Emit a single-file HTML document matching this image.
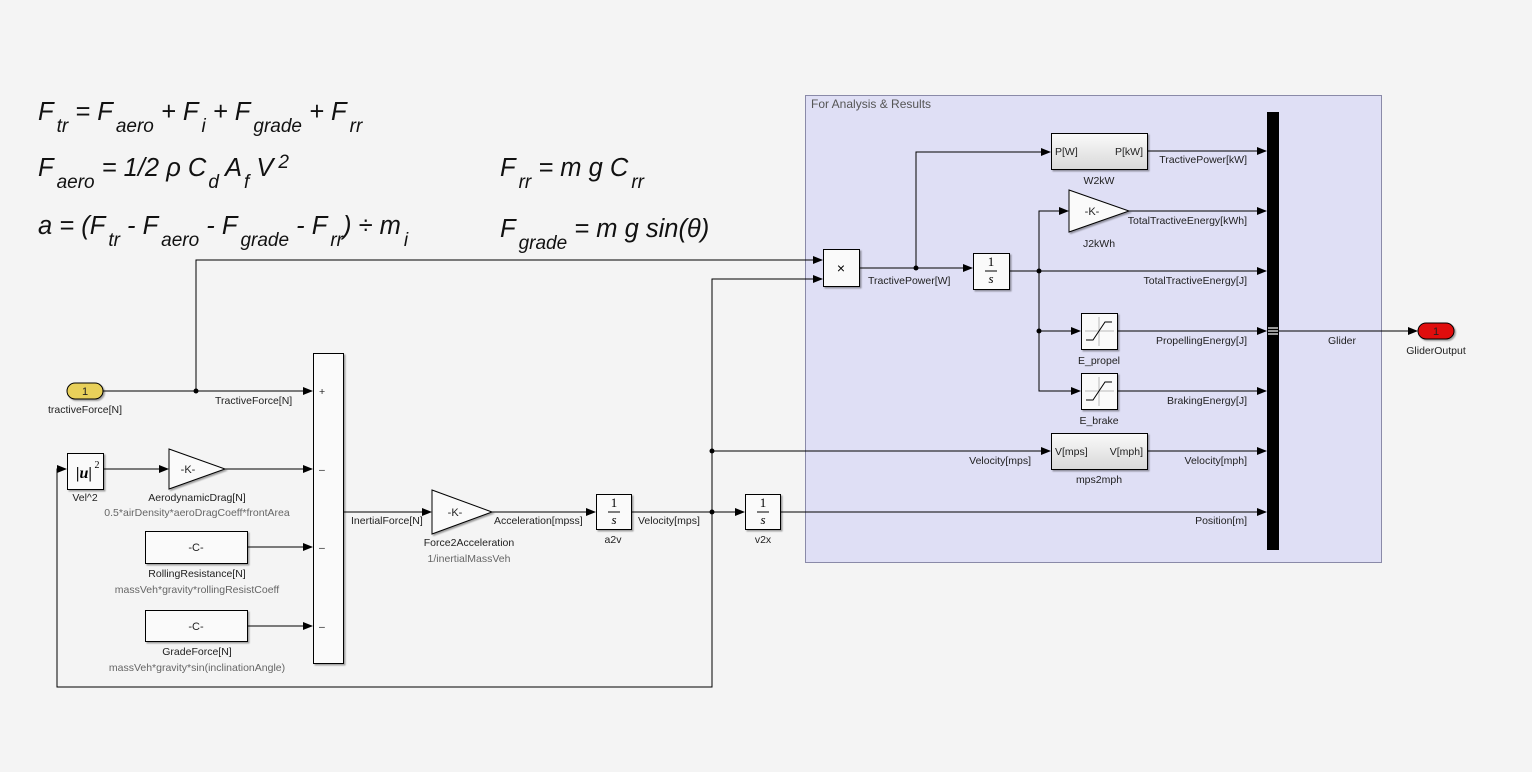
<!DOCTYPE html>
<html><head><meta charset="utf-8"><style>
html,body{margin:0;padding:0;background:#f4f4f4;}
svg{display:block;font-family:"Liberation Sans",Arial,sans-serif;}
.l{font-size:10.5px;fill:#222}
.p{font-size:10.5px;fill:#666}
.eq{font-size:25.5px;font-style:italic;fill:#111}
.eq tspan.s{font-size:19px}
</style></head><body>
<svg width="1532" height="772" viewBox="0 0 1532 772" xmlns="http://www.w3.org/2000/svg">
<defs>
<marker id="a" markerWidth="10" markerHeight="8" refX="9" refY="4" orient="auto" markerUnits="userSpaceOnUse"><path d="M0,0 L10,4 L0,8 z" fill="#000"/></marker>
<linearGradient id="g" x1="0" y1="0" x2="0" y2="1"><stop offset="0" stop-color="#fafafa"/><stop offset="1" stop-color="#d8d8d8"/></linearGradient>
<filter id="sh"><feDropShadow dx="1.5" dy="1.5" stdDeviation="0.8" flood-color="#000" flood-opacity="0.35"/></filter>
</defs>
<rect width="1532" height="772" fill="#f4f4f4"/>

<text class="eq" x="38" y="120">F<tspan class="s" dx="3" dy="12">tr</tspan><tspan dy="-12"> = F</tspan><tspan class="s" dx="3" dy="12">aero</tspan><tspan dy="-12"> + F</tspan><tspan class="s" dx="3" dy="12">i</tspan><tspan dy="-12"> + F</tspan><tspan class="s" dx="3" dy="12">grade</tspan><tspan dy="-12"> + F</tspan><tspan class="s" dx="3" dy="12">rr</tspan></text>
<text class="eq" x="38" y="176">F<tspan class="s" dx="3" dy="12">aero</tspan><tspan dy="-12"> = 1/2 ρ C</tspan><tspan class="s" dx="2" dy="12">d</tspan><tspan dy="-12"> A</tspan><tspan class="s" dx="2" dy="12">f</tspan><tspan dy="-12"> V</tspan><tspan class="s" dx="5" dy="-8">2</tspan></text>
<text class="eq" x="38" y="234">a = (F<tspan class="s" dx="3" dy="12">tr</tspan><tspan dy="-12"> - F</tspan><tspan class="s" dx="3" dy="12">aero</tspan><tspan dy="-12"> - F</tspan><tspan class="s" dx="3" dy="12">grade</tspan><tspan dy="-12"> - F</tspan><tspan class="s" dx="3" dy="12">rr</tspan><tspan dy="-12">) ÷ m</tspan><tspan class="s" dx="3" dy="12">i</tspan></text>
<text class="eq" x="500" y="176">F<tspan class="s" dx="3" dy="12">rr</tspan><tspan dy="-12"> = m g C</tspan><tspan class="s" dx="3" dy="12">rr</tspan></text>
<text class="eq" x="500" y="237">F<tspan class="s" dx="3" dy="12">grade</tspan><tspan dy="-12"> = m g sin(θ)</tspan></text>

<rect x="805.5" y="95.5" width="576" height="467" fill="#dfdff5" stroke="#8a8aa8"/>
<text x="811" y="108" style="font-size:12px;fill:#555">For Analysis &amp; Results</text>

<g stroke="#000" stroke-width="1" fill="none">
<path d="M103,391 H312" marker-end="url(#a)"/>
<path d="M196,391 V260 H822" marker-end="url(#a)"/>
<path d="M103,469 H168" marker-end="url(#a)"/>
<path d="M225,469 H312" marker-end="url(#a)"/>
<path d="M247,547 H312" marker-end="url(#a)"/>
<path d="M247,626 H312" marker-end="url(#a)"/>
<path d="M712,512 V687 H57 V469 H66" marker-end="url(#a)"/>
<path d="M343,512 H431" marker-end="url(#a)"/>
<path d="M492,512 H595" marker-end="url(#a)"/>
<path d="M631,512 H744" marker-end="url(#a)"/>
<path d="M712,512 V279 H822" marker-end="url(#a)"/>
<path d="M712,451 H1050" marker-end="url(#a)"/>
<path d="M780,512 H1266" marker-end="url(#a)"/>
<path d="M859,268 H972" marker-end="url(#a)"/>
<path d="M916,268 V152 H1050" marker-end="url(#a)"/>
<path d="M1147,151 H1266" marker-end="url(#a)"/>
<path d="M1009,271 H1266" marker-end="url(#a)"/>
<path d="M1039,271 V211 H1068" marker-end="url(#a)"/>
<path d="M1129,211 H1266" marker-end="url(#a)"/>
<path d="M1039,271 V391 H1080" marker-end="url(#a)"/>
<path d="M1039,331 H1080" marker-end="url(#a)"/>
<path d="M1117,331 H1266" marker-end="url(#a)"/>
<path d="M1117,391 H1266" marker-end="url(#a)"/>
<path d="M1147,451 H1266" marker-end="url(#a)"/>
<path d="M1279,331 H1417" marker-end="url(#a)"/>
</g>
<g fill="#000">
<circle cx="196" cy="391" r="2.5"/><circle cx="712" cy="512" r="2.5"/><circle cx="712" cy="451" r="2.5"/>
<circle cx="916" cy="268" r="2.5"/><circle cx="1039" cy="271" r="2.5"/><circle cx="1039" cy="331" r="2.5"/>
</g>

<g stroke="#000" fill="#fafafa" filter="url(#sh)">
<rect x="67" y="383" width="36" height="16" rx="8" fill="#e8d05a"/>
<rect x="67.5" y="453.5" width="36" height="36"/>
<polygon points="169,449 225,469 169,489"/>
<rect x="145.5" y="531.5" width="102" height="32"/>
<rect x="145.5" y="610.5" width="102" height="31"/>
<rect x="313.5" y="353.5" width="30" height="310"/>
<polygon points="432,490 492,512 432,534"/>
<rect x="596.5" y="494.5" width="35" height="35"/>
<rect x="745.5" y="494.5" width="35" height="35"/>
<rect x="823.5" y="249.5" width="36" height="37"/>
<rect x="973.5" y="253.5" width="36" height="36"/>
<rect x="1051.5" y="133.5" width="96" height="36" fill="url(#g)"/>
<polygon points="1069,190 1129,211 1069,232"/>
<rect x="1081.5" y="313.5" width="36" height="36"/>
<rect x="1081.5" y="373.5" width="36" height="36"/>
<rect x="1051.5" y="433.5" width="96" height="36" fill="url(#g)"/>
<rect x="1418" y="323" width="36" height="16" rx="8" fill="#e01010"/>
</g>
<rect x="1267" y="112" width="12" height="438" fill="#000"/>
<g stroke="#ccc" stroke-width="1.5"><path d="M1268,328H1278M1268,331H1278M1268,334H1278"/></g>

<g stroke="#bbb" fill="none"><path d="M1099,317V346M1085,331H1114"/><path d="M1099,377V406M1085,391H1114"/></g>
<g stroke="#000" fill="none"><path d="M1086,340H1093L1105,322H1112"/><path d="M1086,400H1093L1105,382H1112"/></g>

<g text-anchor="middle">
<text x="85" y="395" class="l" style="font-size:11px">1</text>
<text x="1436" y="335" class="l" style="font-size:11px">1</text>
<text x="84" y="478" style="font-size:16px;font-family:'Liberation Serif',serif;font-weight:bold;font-style:italic">|u|</text><text x="97" y="468" style="font-size:10px;font-family:'Liberation Serif',serif">2</text>
<text x="188" y="473" class="l" style="font-size:11px">-K-</text>
<text x="455" y="516" class="l" style="font-size:11px">-K-</text>
<text x="1092" y="215" class="l" style="font-size:11px">-K-</text>
<text x="196" y="551" class="l" style="font-size:11px">-C-</text>
<text x="196" y="630" class="l" style="font-size:11px">-C-</text>
<text x="841" y="273" style="font-size:14px">×</text>
<g style="font-family:'Liberation Serif',serif;font-size:13px">
<text x="614" y="507">1</text><text x="614" y="524" font-style="italic">s</text>
<text x="763" y="507">1</text><text x="763" y="524" font-style="italic">s</text>
<text x="991" y="266">1</text><text x="991" y="283" font-style="italic">s</text>
</g>
<g stroke="#000"><path d="M608,512H620M757,512H769M985,271H997"/></g>
<text x="85" y="413" class="l">tractiveForce[N]</text>
<text x="85" y="501" class="l">Vel^2</text>
<text x="197" y="501" class="l">AerodynamicDrag[N]</text>
<text x="197" y="516" class="p">0.5*airDensity*aeroDragCoeff*frontArea</text>
<text x="197" y="577" class="l">RollingResistance[N]</text>
<text x="197" y="593" class="p">massVeh*gravity*rollingResistCoeff</text>
<text x="197" y="655" class="l">GradeForce[N]</text>
<text x="197" y="671" class="p">massVeh*gravity*sin(inclinationAngle)</text>
<text x="469" y="546" class="l">Force2Acceleration</text>
<text x="469" y="562" class="p">1/inertialMassVeh</text>
<text x="613" y="543" class="l">a2v</text>
<text x="763" y="543" class="l">v2x</text>
<text x="1099" y="184" class="l">W2kW</text>
<text x="1099" y="247" class="l">J2kWh</text>
<text x="1099" y="364" class="l">E_propel</text>
<text x="1099" y="424" class="l">E_brake</text>
<text x="1099" y="483" class="l">mps2mph</text>
<text x="1436" y="354" class="l">GliderOutput</text>
<text x="1342" y="344" class="l">Glider</text>
</g>
<text x="319" y="395" class="l">+</text>
<text x="319" y="473" class="l">–</text>
<text x="319" y="551" class="l">–</text>
<text x="319" y="630" class="l">–</text>
<text x="1055" y="155" class="l">P[W]</text>
<text x="1143" y="155" class="l" text-anchor="end">P[kW]</text>
<text x="1055" y="455" class="l">V[mps]</text>
<text x="1143" y="455" class="l" text-anchor="end">V[mph]</text>

<text x="215" y="404" class="l">TractiveForce[N]</text>
<text x="351" y="524" class="l">InertialForce[N]</text>
<text x="494" y="524" class="l">Acceleration[mpss]</text>
<text x="638" y="524" class="l">Velocity[mps]</text>
<text x="868" y="284" class="l">TractivePower[W]</text>
<g text-anchor="end">
<text x="1031" y="464" class="l">Velocity[mps]</text>
<text x="1247" y="524" class="l">Position[m]</text>
<text x="1247" y="163" class="l">TractivePower[kW]</text>
<text x="1247" y="224" class="l">TotalTractiveEnergy[kWh]</text>
<text x="1247" y="284" class="l">TotalTractiveEnergy[J]</text>
<text x="1247" y="344" class="l">PropellingEnergy[J]</text>
<text x="1247" y="404" class="l">BrakingEnergy[J]</text>
<text x="1247" y="464" class="l">Velocity[mph]</text>
</g>
</svg>
</body></html>
